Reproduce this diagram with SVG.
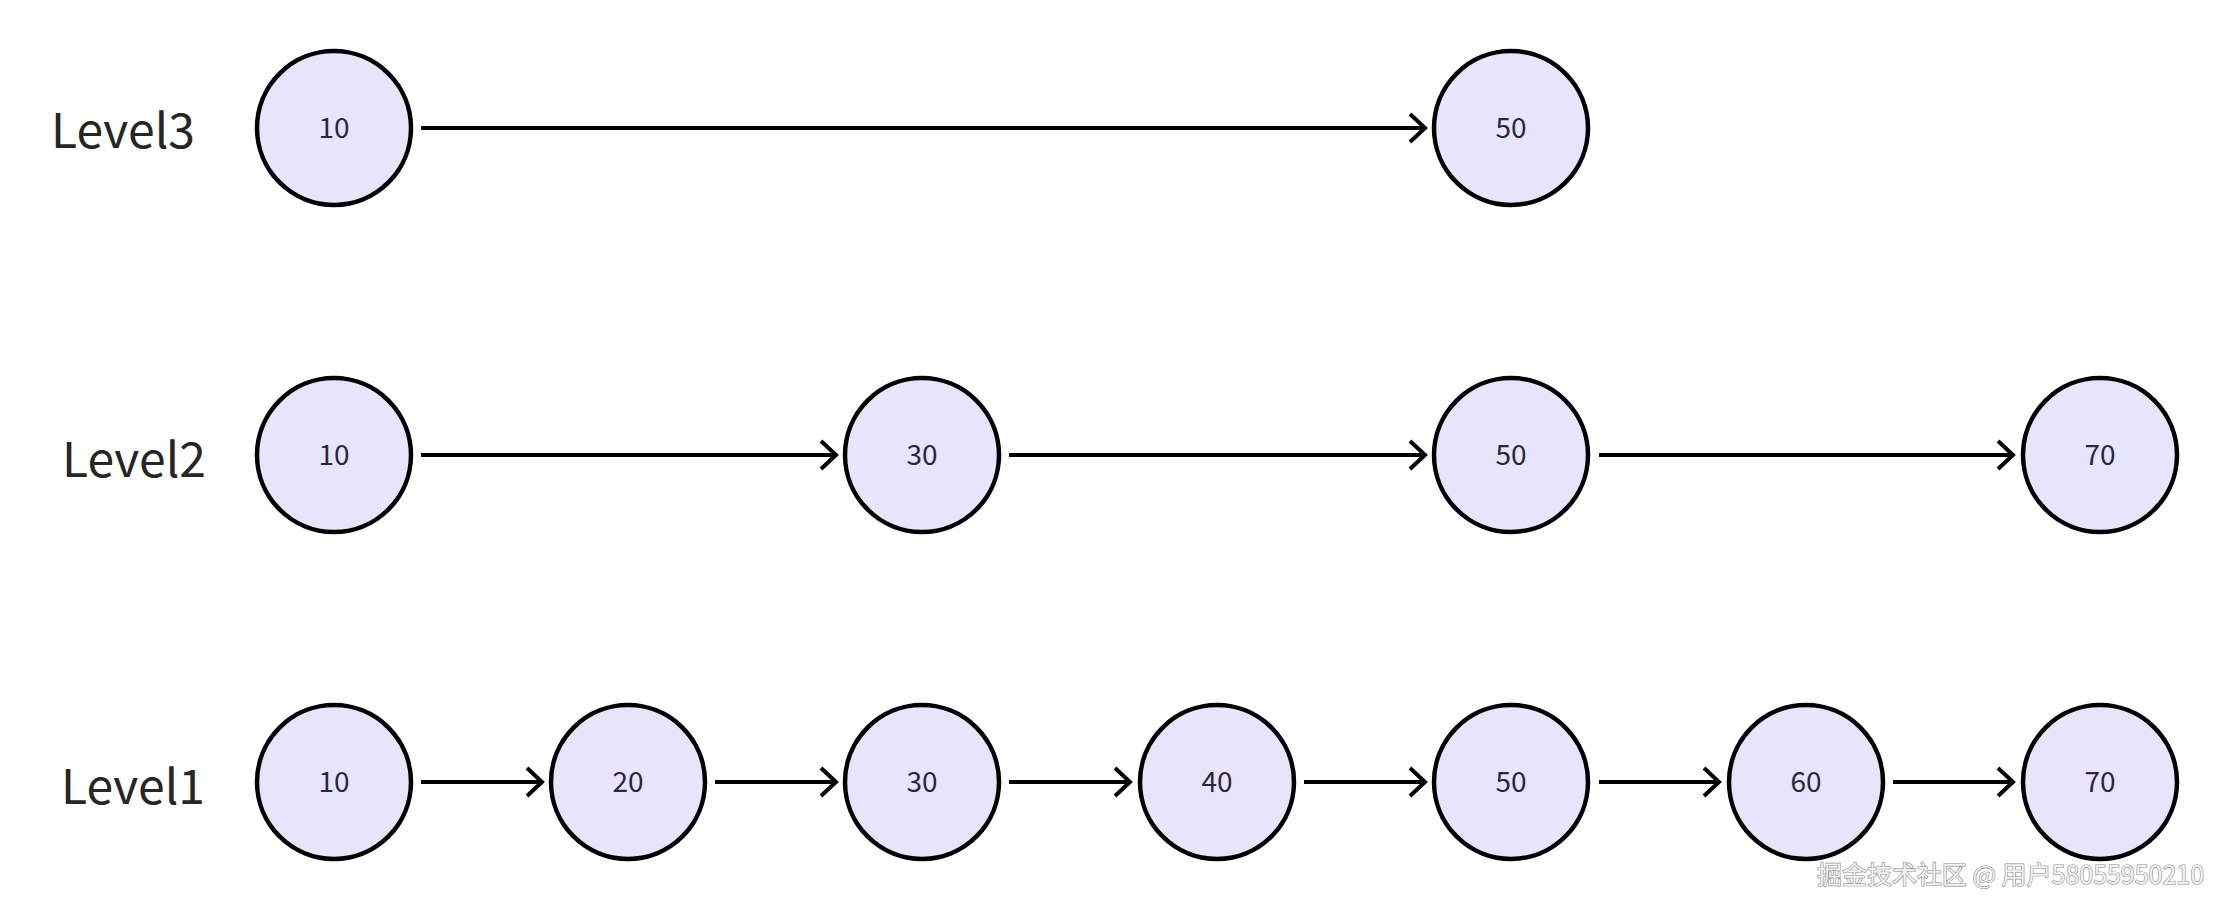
<svg xmlns="http://www.w3.org/2000/svg" width="2230" height="912" viewBox="0 0 2230 912">
<style>
.bg{fill:#ffffff}
.node circle{fill:#E7E4FB;stroke:#000;stroke-width:4.5}
.node text{font-family:"Noto Sans CJK SC","Noto Sans",sans-serif;font-size:28px;fill:#2a2540;text-anchor:middle}
.lvl{font-family:"Noto Sans CJK SC","Noto Sans",sans-serif;font-size:48px;fill:#262626}
.edge{stroke:#000;stroke-width:4;fill:none}
.wm{font-family:"Noto Sans CJK SC","Noto Sans",sans-serif;font-size:25px;fill:#f2f2f2;stroke:#8a8a8a;stroke-width:1.2;paint-order:stroke}
</style>
<defs>
<marker id="arr" viewBox="0 0 20 32" refX="17" refY="16" markerWidth="20" markerHeight="32" markerUnits="userSpaceOnUse" orient="auto">
<path d="M2,2 L17,16 L2,30" fill="none" stroke="#000" stroke-width="4"/>
</marker>
</defs>
<rect class="bg" width="2230" height="912"/>
<g id="labels">
<text class="lvl" x="51" y="148">Level3</text>
<text class="lvl" x="62" y="477">Level2</text>
<text class="lvl" x="61" y="804">Level1</text>
</g>
<g id="connectors">
<line class="edge" x1="421" y1="128" x2="1425" y2="128" marker-end="url(#arr)"/>
<line class="edge" x1="421" y1="455" x2="836" y2="455" marker-end="url(#arr)"/>
<line class="edge" x1="1009" y1="455" x2="1425" y2="455" marker-end="url(#arr)"/>
<line class="edge" x1="1599" y1="455" x2="2013" y2="455" marker-end="url(#arr)"/>
<line class="edge" x1="421" y1="782" x2="542" y2="782" marker-end="url(#arr)"/>
<line class="edge" x1="715" y1="782" x2="836" y2="782" marker-end="url(#arr)"/>
<line class="edge" x1="1009" y1="782" x2="1130" y2="782" marker-end="url(#arr)"/>
<line class="edge" x1="1304" y1="782" x2="1425" y2="782" marker-end="url(#arr)"/>
<line class="edge" x1="1599" y1="782" x2="1719" y2="782" marker-end="url(#arr)"/>
<line class="edge" x1="1893" y1="782" x2="2013" y2="782" marker-end="url(#arr)"/>
</g>
<g id="L3-10" class="node"><circle cx="334" cy="128" r="77"/><text x="334" y="138">10</text></g>
<g id="L3-50" class="node"><circle cx="1511" cy="128" r="77"/><text x="1511" y="138">50</text></g>
<g id="L2-10" class="node"><circle cx="334" cy="455" r="77"/><text x="334" y="465">10</text></g>
<g id="L2-30" class="node"><circle cx="922" cy="455" r="77"/><text x="922" y="465">30</text></g>
<g id="L2-50" class="node"><circle cx="1511" cy="455" r="77"/><text x="1511" y="465">50</text></g>
<g id="L2-70" class="node"><circle cx="2100" cy="455" r="77"/><text x="2100" y="465">70</text></g>
<g id="L1-10" class="node"><circle cx="334" cy="782" r="77"/><text x="334" y="792">10</text></g>
<g id="L1-20" class="node"><circle cx="628" cy="782" r="77"/><text x="628" y="792">20</text></g>
<g id="L1-30" class="node"><circle cx="922" cy="782" r="77"/><text x="922" y="792">30</text></g>
<g id="L1-40" class="node"><circle cx="1217" cy="782" r="77"/><text x="1217" y="792">40</text></g>
<g id="L1-50" class="node"><circle cx="1511" cy="782" r="77"/><text x="1511" y="792">50</text></g>
<g id="L1-60" class="node"><circle cx="1806" cy="782" r="77"/><text x="1806" y="792">60</text></g>
<g id="L1-70" class="node"><circle cx="2100" cy="782" r="77"/><text x="2100" y="792">70</text></g>
<text class="wm" x="1817" y="884" textLength="387" lengthAdjust="spacingAndGlyphs">掘金技术社区 @ 用户58055950210</text>
</svg>
